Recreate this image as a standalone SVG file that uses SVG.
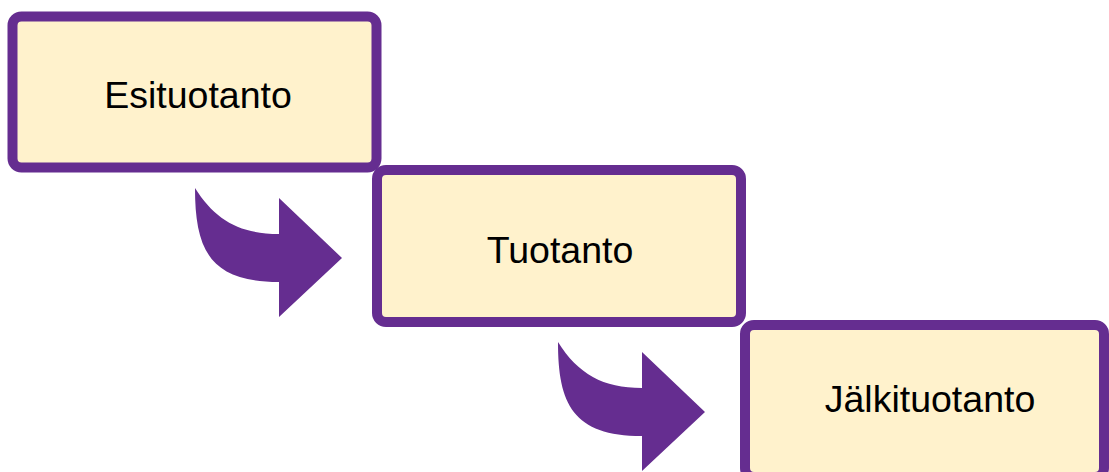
<svg xmlns="http://www.w3.org/2000/svg" width="1109" height="472" viewBox="0 0 1109 472">
  <defs>
    <style>
      .step rect { fill: #FFF2CC; stroke: #652D90; stroke-width: 10; }
      .step text { font-family: "Liberation Sans", Arial, sans-serif; font-size: 37.5px; fill: #000; text-anchor: middle; }
      .bend { fill: #652D90; }
    </style>
    <path id="bentArrow" d="M195,188 C215,220 240,234 279,234 L279,198 L342,258 L279,317 L279,282 C210,282 195,250 195,188 Z"/>
  </defs>
  <rect width="1109" height="472" fill="#FFFFFF"/>

  <!-- connectors: curved block arrows between phases -->
  <g id="connectors">
    <use href="#bentArrow" class="bend"/>
    <use href="#bentArrow" class="bend" transform="translate(363,154)"/>
  </g>

  <g id="esituotanto" class="step">
    <rect x="12.5" y="16.5" width="364" height="151" rx="9"/>
    <text x="198" y="108">Esituotanto</text>
  </g>

  <g id="tuotanto" class="step">
    <rect x="377" y="170" width="364" height="152" rx="9"/>
    <text x="560" y="263">Tuotanto</text>
  </g>

  <g id="jalkituotanto" class="step">
    <rect x="745" y="325" width="359" height="152" rx="9"/>
    <text x="930" y="412">Jälkituotanto</text>
  </g>
</svg>
